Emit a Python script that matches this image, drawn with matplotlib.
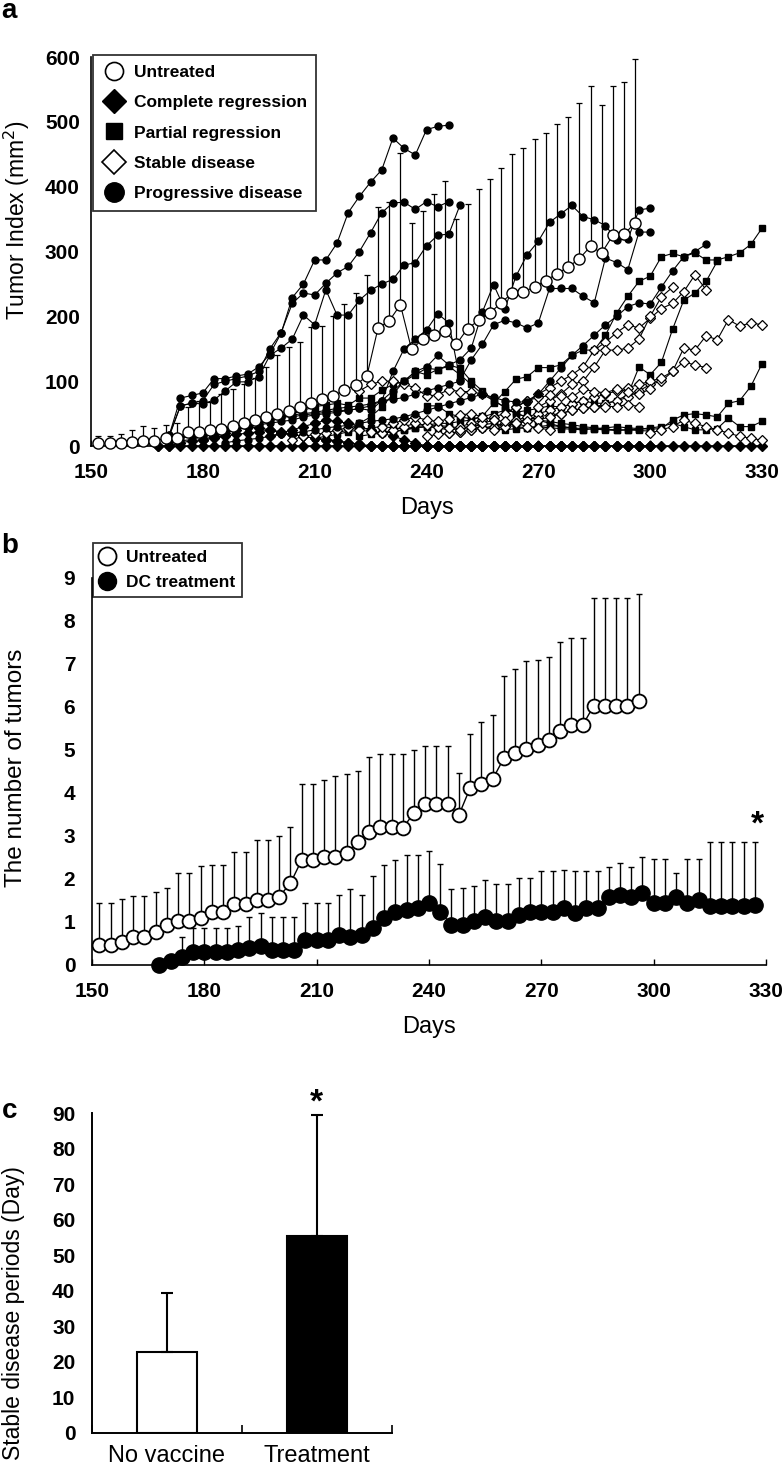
import numpy as np
import matplotlib
matplotlib.use('Agg')
import matplotlib.pyplot as plt
from matplotlib.lines import Line2D

plt.rcParams['font.family'] = ['Liberation Sans', 'DejaVu Sans']

# ---------------- panel a : tumor index per mouse ----------------
# untreated mean (every 3 days from day 152) and top of its SD bar
untreated_a_start = 152
untreated_a = [4, 4, 5, 7, 8, 8, 12, 13, 21, 22, 25, 26, 31, 36, 40, 45, 50, 54, 61, 67,
               72, 77, 87, 94, 108, 182, 193, 218, 149, 165, 171, 178, 157, 181, 194, 205,
               221, 236, 237, 246, 255, 266, 276, 289, 308, 298, 325, 327, 344]
untreated_a_top = [15, 16, 18, 24, 31, 28, 33, 35, 60, 70, 68, 80, 88, 95, 105, 122, 140, 153,
                   161, 183, 185, 200, 219, 236, 264, 369, 377, 452, 344, 363, 389, 409, 350,
                   374, 396, 412, 429, 450, 459, 473, 483, 497, 508, 529, 555, 526, 556, 561, 597]

# treated mice: first day, then one reading every 3 days
cr_starts = [168, 168, 180, 198]
cr_values = [
    [0, 0, 0, 0, 0, 0, 0, 0, 0, 0, 0, 0, 0, 0, 0, 0, 0, 0, 0, 0, 0, 0, 0, 0, 0, 0, 0, 0,
     0, 0, 0, 0, 0, 0, 0, 0, 0, 0, 0, 0, 0, 0, 0, 0, 0, 0, 0, 0, 0, 0, 0, 0, 0, 0, 0],
    [0, 0, 5, 8, 10, 12, 15, 18, 20, 22, 25, 20, 18, 15, 12, 10, 8, 5, 3, 0, 0, 0, 0, 0,
     0, 0, 0, 0, 0, 0, 0, 0, 0, 0, 0, 0, 0, 0, 0, 0, 0, 0, 0, 0, 0],
    [10, 15, 20, 25, 30, 28, 25, 22, 18, 15, 12, 10, 8, 5, 3, 0, 0, 0, 0, 0, 0, 0, 0, 0,
     0, 0, 0, 0, 0, 0, 0, 0, 0, 0, 0, 0, 0, 0, 0, 0, 0],
    [15, 20, 25, 30, 35, 40, 38, 35, 30, 25, 20, 15, 10, 5, 0, 0, 0, 0, 0, 0, 0, 0, 0, 0, 0, 0, 0],
]

pr_starts = [210, 222, 228, 240, 216, 204]
pr_values = [
    [12, 15, 18, 22, 25, 28, 30, 28, 26, 30, 32, 35, 35, 38, 40, 46, 66, 84, 103, 107, 121,
     121, 125, 140, 148, 148, 171, 205, 231, 254, 262, 292, 297, 292, 298, 287, 287, 292,
     298, 311, 336],
    [15, 18, 20, 22, 25, 28, 30, 28, 25, 27, 30, 28, 26, 25, 27, 28, 30, 28, 27, 26, 25, 27,
     28, 30, 28, 27, 26, 27, 40, 48, 50, 48, 45, 66, 70, 92, 127],
    [20, 22, 25, 28, 30, 32, 30, 28, 30, 33, 35, 32, 30, 28, 30, 32, 30, 28, 27, 26, 25, 24,
     25, 26, 28, 30, 35, 30, 25, 25, 27, 43, 30, 30, 38],
    [62, 62, 50, 45, 42, 45, 50, 55, 52, 55, 58, 62, 60, 65, 70, 66, 66, 70, 79, 122, 110,
     129, 180, 225, 236, 254, 285],
    [20, 25, 35, 45, 60, 80, 100, 110, 120, 118, 123, 110, 95, 80, 70, 60, 50, 45, 40, 35, 30, 28, 25],
    [50, 55, 61, 63, 66, 63, 74, 74, 86, 95, 100, 115, 110, 118, 125, 120, 100, 85, 70, 60,
     50, 45, 40, 38, 35, 33, 30, 28, 26, 25, 25, 24, 23],
]

sd_starts = [240, 246, 249, 270, 222, 258, 300, 264, 204, 228]
sd_values = [
    [15, 18, 20, 22, 25, 28, 30, 32, 35, 40, 45, 48, 50, 55, 58, 60, 65, 70, 75, 85, 95, 100,
     115, 151, 148, 170, 164, 195, 185, 190, 187],
    [20, 22, 25, 28, 30, 35, 40, 45, 50, 55, 60, 65, 70, 75, 80, 85, 90, 95, 100, 105, 115, 130, 125, 121],
    [30, 35, 40, 45, 50, 60, 70, 80, 90, 100, 110, 122, 148, 160, 175, 187, 182, 197, 212, 220, 238, 264, 241],
    [60, 70, 80, 95, 100, 122, 148, 148, 151, 165, 200, 230, 245],
    [85, 95, 100, 100, 95, 90, 77, 79, 87, 84, 84, 80],
    [25, 30, 35, 38, 40, 45, 50, 55, 58, 61, 61, 61, 64, 61],
    [20, 25, 30, 40, 35, 30, 25, 20, 15, 12, 9],
    [60, 70, 75, 78, 77, 75, 88, 84, 82, 88, 84, 80, 88],
    [10, 15, 18, 20, 25, 28, 25, 22, 20, 25, 30, 35, 32, 30, 28, 25, 30, 35, 40, 38, 35, 30, 28, 25],
    [30, 35, 40, 45, 40, 38, 42, 48, 50, 45, 40],
]

pd_starts = [171, 171, 171, 177, 171, 186, 171]
pd_values = [
    [17, 74, 78, 82, 104, 104, 108, 111, 122, 142, 174, 229, 250, 287, 287, 313, 360, 385,
     407, 426, 475, 459, 449, 488, 493, 495],
    [17, 62, 66, 70, 95, 100, 104, 108, 115, 150, 175, 220, 236, 233, 251, 267, 277, 300,
     329, 360, 375, 376, 365, 377, 369, 377],
    [15, 62, 66, 65, 71, 85, 99, 99, 107, 140, 151, 165, 202, 187, 241, 202, 202, 225, 240,
     250, 257, 279, 283, 309, 325, 327, 372],
    [15, 18, 20, 25, 28, 30, 35, 40, 45, 45, 48, 50, 52, 55, 55, 58, 55, 70, 85, 100, 115,
     122, 140, 125, 133, 151, 207, 249, 211, 262, 295, 316, 345, 358, 371, 354, 349, 340,
     318, 319, 364, 367],
    [10, 12, 15, 18, 22, 25, 28, 30, 33, 35, 38, 40, 45, 48, 50, 52, 55, 58, 62, 70, 115,
     150, 165, 179, 204, 190, 102, 133, 157, 187, 194, 190, 182, 190, 243, 243, 243, 231,
     221, 290, 283, 272, 330, 330],
    [5, 8, 10, 12, 15, 18, 20, 22, 25, 28, 30, 32, 35, 38, 40, 42, 45, 50, 55, 60, 65, 70,
     75, 80, 75, 70, 68, 68, 80, 100, 120, 140, 155, 171, 187, 200, 215, 221, 219, 245,
     270, 292, 300, 311],
    [5, 8, 10, 15, 20, 25, 30, 35, 40, 42, 45, 48, 50, 52, 55, 58, 60, 62, 65, 70, 72, 75,
     80, 85, 90, 95, 100],
]

legend_a = ['Untreated', 'Complete regression', 'Partial regression',
            'Stable disease', 'Progressive disease']

# ---------------- panel b : number of tumors ----------------
untreated_b_start = 152
untreated_b = [0.47, 0.47, 0.54, 0.66, 0.66, 0.77, 0.93, 1.02, 1.02, 1.10, 1.24, 1.22, 1.41,
               1.41, 1.51, 1.51, 1.59, 1.90, 2.44, 2.44, 2.52, 2.52, 2.60, 2.85, 3.10, 3.20,
               3.20, 3.18, 3.54, 3.74, 3.74, 3.74, 3.49, 4.12, 4.20, 4.32, 4.81, 4.92, 5.02,
               5.12, 5.23, 5.45, 5.57, 5.57, 6.03, 6.03, 6.03, 6.03, 6.14]
untreated_b_top = [1.45, 1.45, 1.53, 1.60, 1.60, 1.70, 1.80, 2.13, 2.13, 2.30, 2.32, 2.32,
                   2.63, 2.63, 2.90, 2.90, 3.00, 3.20, 4.20, 4.20, 4.30, 4.40, 4.45, 4.51,
                   4.84, 4.90, 4.90, 4.90, 5.00, 5.09, 5.09, 5.09, 4.46, 5.37, 5.66, 5.81,
                   6.72, 6.88, 7.08, 7.09, 7.17, 7.50, 7.61, 7.61, 8.54, 8.54, 8.54, 8.54, 8.63]
dc_start = 168
dc_b = [0.00, 0.08, 0.19, 0.31, 0.31, 0.31, 0.31, 0.35, 0.39, 0.44, 0.35, 0.35, 0.35, 0.58,
        0.58, 0.58, 0.70, 0.64, 0.70, 0.85, 1.08, 1.24, 1.28, 1.32, 1.43, 1.24, 0.93, 0.93,
        1.01, 1.12, 1.01, 1.01, 1.16, 1.24, 1.24, 1.24, 1.32, 1.20, 1.32, 1.32, 1.59, 1.63,
        1.59, 1.67, 1.43, 1.43, 1.59, 1.43, 1.51, 1.36, 1.36, 1.36, 1.36, 1.40]
dc_b_top = [0.00, 0.08, 0.66, 0.85, 0.85, 0.85, 0.85, 0.91, 1.12, 1.20, 1.12, 1.12, 1.12,
            1.43, 1.43, 1.43, 1.63, 1.76, 1.63, 2.07, 2.33, 2.43, 2.56, 2.56, 2.65, 2.35,
            1.76, 1.78, 1.84, 1.98, 1.88, 1.88, 2.03, 2.03, 2.19, 2.19, 2.21, 2.19, 2.19,
            2.19, 2.27, 2.38, 2.27, 2.50, 2.47, 2.47, 2.13, 2.47, 2.47, 2.85, 2.85, 2.85,
            2.85, 2.85]
legend_b = ['Untreated', 'DC treatment']

# ---------------- panel c : stable disease periods ----------------
groups_c = ['No vaccine', 'Treatment']
period_c = [22.8, 55.4]
period_c_top = [39.4, 89.4]

fig = plt.figure(figsize=(7.83, 14.77), dpi=100)


def days_for(start, n):
    return start + 3 * np.arange(n)


def style_days_axis(ax, ymax, ystep, ypad):
    ax.set_xlim(150, 330)
    ax.set_ylim(0, ymax)
    ax.set_xticks(np.arange(150, 331, 30))
    ax.set_yticks(np.arange(0, ymax + ystep * 0.5, ystep))
    for s in ['top', 'right']:
        ax.spines[s].set_visible(False)
    for s in ['left', 'bottom']:
        ax.spines[s].set_linewidth(1.2)
    ax.tick_params(axis='x', direction='in', length=4, width=1, pad=12, labelsize=15)
    ax.tick_params(axis='y', length=0, pad=ypad, labelsize=15)
    for lab in ax.get_xticklabels() + ax.get_yticklabels():
        lab.set_fontweight('bold')
    ax.set_xlabel('Days', fontsize=17, labelpad=11)


# ---- a ----
ax = fig.add_axes([0.1162, 0.698, 0.857, 0.2634])
for st, vals in zip(cr_starts, cr_values):
    ax.plot(days_for(st, len(vals)), vals, '-', color='k', lw=0.8, marker='D', ms=5,
            mfc='k', mec='k', clip_on=False, zorder=3)
for st, vals in zip(pr_starts, pr_values):
    ax.plot(days_for(st, len(vals)), vals, '-', color='k', lw=0.8, marker='s', ms=4.8,
            mfc='k', mec='k', clip_on=False, zorder=3)
for st, vals in zip(sd_starts, sd_values):
    ax.plot(days_for(st, len(vals)), vals, '-', color='k', lw=0.8, marker='D', ms=5.5,
            mfc='white', mec='k', mew=0.9, clip_on=False, zorder=3)
for st, vals in zip(pd_starts, pd_values):
    ax.plot(days_for(st, len(vals)), vals, '-', color='k', lw=0.8, marker='o', ms=5,
            mfc='k', mec='k', clip_on=False, zorder=3)

ua = np.array(untreated_a, float)
ua_days = days_for(untreated_a_start, len(ua))
ax.errorbar(ua_days, ua, yerr=[np.zeros_like(ua), np.array(untreated_a_top) - ua],
            fmt='none', ecolor='k', elinewidth=0.9, capsize=2, capthick=0.9, zorder=2)
ax.plot(ua_days, ua, '-', color='k', lw=0.8, marker='o', ms=8, mfc='white', mec='k',
        mew=1.0, clip_on=False, zorder=4)
style_days_axis(ax, 600, 100, 8)
ax.set_ylabel('Tumor Index (mm$^2$)', fontsize=16.5)
ax.yaxis.set_label_coords(-0.088, 0.58)

handles_a = [
    Line2D([], [], ls='none', marker='o', ms=13, mfc='white', mec='k', mew=1.2),
    Line2D([], [], ls='none', marker='D', ms=12, mfc='k', mec='k'),
    Line2D([], [], ls='none', marker='s', ms=12, mfc='k', mec='k'),
    Line2D([], [], ls='none', marker='D', ms=12, mfc='white', mec='k', mew=1.2),
    Line2D([], [], ls='none', marker='o', ms=14, mfc='k', mec='k'),
]
leg = fig.legend(handles_a, legend_a, loc='upper left', bbox_to_anchor=(0.1188, 0.9628),
                 prop={'weight': 'bold', 'size': 12.5}, frameon=True, fancybox=False,
                 edgecolor='k', handlelength=1.3, handletextpad=0.5, labelspacing=0.88,
                 borderpad=0.55, borderaxespad=0)
leg.get_frame().set_linewidth(1.3)

# ---- b ----
ax = fig.add_axes([0.1175, 0.3467, 0.8608, 0.262])
ub = np.array(untreated_b)
ub_days = days_for(untreated_b_start, len(ub))
ax.errorbar(ub_days, ub, yerr=[np.zeros_like(ub), np.array(untreated_b_top) - ub],
            fmt='none', ecolor='k', elinewidth=1.0, capsize=2, capthick=1.0, zorder=2)
ax.plot(ub_days, ub, '-', color='k', lw=1, marker='o', ms=10, mfc='white', mec='k',
        mew=1.3, clip_on=False, zorder=4)
db = np.array(dc_b)
db_days = days_for(dc_start, len(db))
ax.errorbar(db_days, db, yerr=[np.zeros_like(db), np.array(dc_b_top) - db],
            fmt='none', ecolor='k', elinewidth=1.0, capsize=2, capthick=1.0, zorder=2)
ax.plot(db_days, db, '-', color='k', lw=1, marker='o', ms=11, mfc='k', mec='k',
        clip_on=False, zorder=4)
ax.text(327.6, 3.05, '*', fontsize=24, fontweight='bold', ha='center', va='baseline')
style_days_axis(ax, 9, 1, 12)
ax.set_ylabel('The number of tumors', fontsize=17.5)
ax.yaxis.set_label_coords(-0.097, 0.51)

handles_b = [
    Line2D([], [], ls='none', marker='o', ms=13, mfc='white', mec='k', mew=1.3),
    Line2D([], [], ls='none', marker='o', ms=13, mfc='k', mec='k'),
]
leg = fig.legend(handles_b, legend_b, loc='upper left', bbox_to_anchor=(0.1188, 0.6324),
                 prop={'weight': 'bold', 'size': 12.5}, frameon=True, fancybox=False,
                 edgecolor='k', handlelength=0.9, handletextpad=0.6, labelspacing=0.6,
                 borderpad=0.38, borderaxespad=0)
leg.get_frame().set_linewidth(1.3)

# ---- c ----
ax = fig.add_axes([0.1175, 0.0298, 0.383, 0.2166])
xc = np.arange(len(groups_c))
pc = np.array(period_c)
ax.bar(xc, pc, width=0.4, color=['white', 'black'], edgecolor='k', linewidth=1.5, zorder=2)
ax.errorbar(xc, pc, yerr=[np.zeros_like(pc), np.array(period_c_top) - pc], fmt='none',
            ecolor='k', elinewidth=1.5, capsize=4, capthick=1.5, zorder=3)
ax.text(1, 90.3, '*', fontsize=24, fontweight='bold', ha='center', va='baseline',
        clip_on=False)
ax.set_xlim(-0.5, 1.5)
ax.set_ylim(0, 90)
ax.set_yticks(np.arange(0, 91, 10))
ax.set_xticks([-0.5, 0.5, 1.5])
ax.set_xticklabels([])
ax.set_xticks(xc, minor=True)
ax.set_xticklabels(groups_c, minor=True, fontsize=17)
ax.tick_params(axis='x', which='major', direction='in', length=6, width=1.2)
ax.tick_params(axis='x', which='minor', length=0, pad=8.5)
ax.tick_params(axis='y', length=0, pad=12, labelsize=15)
for lab in ax.get_yticklabels():
    lab.set_fontweight('bold')
for s in ['top', 'right']:
    ax.spines[s].set_visible(False)
for s in ['left', 'bottom']:
    ax.spines[s].set_linewidth(1.4)
ax.set_ylabel('Stable disease periods (Day)', fontsize=16.5)
ax.yaxis.set_label_coords(-0.225, 0.375)

# panel letters
fig.text(0.002, 0.9878, 'a', fontsize=20, fontweight='bold', va='baseline')
fig.text(0.002, 0.6256, 'b', fontsize=20, fontweight='bold', va='baseline')
fig.text(0.002, 0.2431, 'c', fontsize=20, fontweight='bold', va='baseline')

fig.savefig('out.png', dpi=100)
